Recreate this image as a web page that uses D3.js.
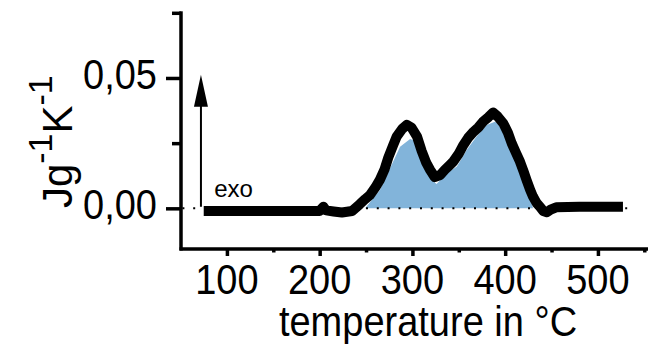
<!DOCTYPE html>
<html>
<head>
<meta charset="utf-8">
<script src="https://cdn.jsdelivr.net/npm/d3@7"></script>
<style>
  html, body { margin: 0; padding: 0; background: #fff; }
  svg { display: block; font-family: "Liberation Sans", Arial, sans-serif; }
</style>
</head>
<body>
<svg id="chart" width="654" height="344"></svg>
<script>
// ---- data ----
const curveTemps = [75, 100, 150, 200, 204, 207, 215, 224, 235, 243, 249, 254, 260, 265, 270, 274, 279, 283, 289, 294, 299, 305, 310, 315, 319, 324, 330, 335, 340, 344, 350, 355, 360, 366, 371, 376, 382, 387, 392, 398, 403, 407, 412, 416, 420, 423, 427, 430, 434, 437.5, 441, 445, 449, 455, 480, 527];
const curveValues = [-0.001, -0.001, -0.001, -0.001, 0.0006, -0.0008, -0.0012, -0.0016, -0.001, 0.0015, 0.0035, 0.005, 0.008, 0.011, 0.015, 0.0195, 0.024, 0.0275, 0.0305, 0.032, 0.031, 0.0275, 0.022, 0.0174, 0.0148, 0.012, 0.0128, 0.0148, 0.0165, 0.0179, 0.021, 0.0243, 0.027, 0.0294, 0.031, 0.0332, 0.035, 0.0368, 0.0352, 0.0326, 0.029, 0.025, 0.021, 0.0179, 0.014, 0.0109, 0.007, 0.0045, 0.002, 0.0006, -0.001, -0.0015, -0.0005, 0.0004, 0.0006, 0.0006];
const fillTemps = [249, 265, 276, 286.7, 297.5, 304.7, 311.6, 321, 326, 337, 348, 358.5, 369, 380, 389, 398, 408.7, 419.5, 430];
const fillValues = [0, 0.007, 0.0155, 0.0236, 0.0266, 0.0256, 0.0174, 0.0109, 0.0093, 0.0135, 0.016, 0.0224, 0.0275, 0.032, 0.0332, 0.0313, 0.0236, 0.0147, 0];
const xTicks = [100, 200, 300, 400, 500];
const xMinorTicks = [150, 250, 350, 450, 550];
const yTicks = [0, 0.05];
const yMinorTicks = [0.025, 0.075];
const xDomain = [50.5, 554];
const yDomain = [-0.0156, 0.075];
const zeroLineTemps = [52, 537];
const arrowTemp = 72;
const arrowValues = [0.0006, 0.0512];
const exoLabel = { t: 86.3, v: 0.0045, text: "exo" };
const xTitle = "temperature in °C";

// ---- chart ----
const svg = d3.select("#chart");
const x = d3.scaleLinear().domain(xDomain).range([181, 648]);
const y = d3.scaleLinear().domain(yDomain).range([249, 12.8]);
const fmt = v => d3.format(".2f")(v).replace(".", ",");
const STRETCH = 1.1;

function stretchedText(px, py, size, anchor, str) {
  return svg.append("text")
    .attr("transform", `translate(${px},${py}) scale(1,${STRETCH})`)
    .attr("text-anchor", anchor)
    .attr("font-size", size)
    .attr("fill", "#000")
    .text(str);
}

// fill
const area = d3.area()
  .x((d, i) => x(fillTemps[i]))
  .y0(y(0))
  .y1((d, i) => y(fillValues[i]));
svg.append("path")
  .attr("d", area(fillValues))
  .attr("fill", "#82b4da");

// dotted zero line
svg.append("line")
  .attr("x1", x(zeroLineTemps[0])).attr("x2", x(zeroLineTemps[1]))
  .attr("y1", y(0)).attr("y2", y(0))
  .attr("stroke", "#000").attr("stroke-width", 2)
  .attr("stroke-dasharray", "2,8.8");

// curve
const line = d3.line()
  .x((d, i) => x(curveTemps[i]))
  .y((d, i) => y(curveValues[i]));
svg.append("path")
  .attr("d", line(curveValues))
  .attr("fill", "none")
  .attr("stroke", "#000")
  .attr("stroke-width", 10)
  .attr("stroke-linejoin", "round")
  .attr("stroke-linecap", "butt");

// arrow
const ax = x(arrowTemp);
const tipY = y(arrowValues[1]);
svg.append("line")
  .attr("x1", ax).attr("x2", ax)
  .attr("y1", y(arrowValues[0])).attr("y2", tipY + 30)
  .attr("stroke", "#000").attr("stroke-width", 2);
svg.append("path")
  .attr("d", `M${ax},${tipY} L${ax - 7},${tipY + 32} L${ax + 7},${tipY + 32} Z`)
  .attr("fill", "#000");

svg.append("text")
  .attr("x", x(exoLabel.t)).attr("y", y(exoLabel.v))
  .attr("font-size", 24)
  .text(exoLabel.text);

// x axis ticks
const x0 = y.range()[0];
const xAxis = svg.append("g").attr("transform", `translate(0,${x0})`);
xAxis.call(d3.axisBottom(x).tickValues(xTicks).tickSize(7).tickFormat(""));
xAxis.select(".domain").remove();
xAxis.selectAll(".tick line").attr("stroke-width", 3.5);
const xMinor = svg.append("g").attr("transform", `translate(0,${x0})`);
xMinor.call(d3.axisBottom(x).tickValues(xMinorTicks).tickSize(3.5).tickFormat(""));
xMinor.select(".domain").remove();
xMinor.selectAll(".tick line").attr("stroke-width", 3.5);
xTicks.forEach(t => stretchedText(x(t), 294, 38, "middle", d3.format("d")(t)));

// y axis ticks
const y0 = x.range()[0];
const yAxis = svg.append("g").attr("transform", `translate(${y0},0)`);
yAxis.call(d3.axisLeft(y).tickValues(yTicks).tickSize(15).tickFormat(""));
yAxis.select(".domain").remove();
yAxis.selectAll(".tick line").attr("stroke-width", 3.5);
const yMinor = svg.append("g").attr("transform", `translate(${y0},0)`);
yMinor.call(d3.axisLeft(y).tickValues(yMinorTicks).tickSize(9).tickFormat(""));
yMinor.select(".domain").remove();
yMinor.selectAll(".tick line").attr("stroke-width", 3.5);
yTicks.forEach(v => stretchedText(157, y(v) + 11, 38, "end", fmt(v)));

// axis lines
svg.append("line")
  .attr("x1", y0).attr("x2", y0)
  .attr("y1", y.range()[1] - 1.5).attr("y2", x0 + 1.5)
  .attr("stroke", "#000").attr("stroke-width", 3.5);
svg.append("line")
  .attr("x1", y0 - 1.5).attr("x2", x.range()[1])
  .attr("y1", x0).attr("y2", x0)
  .attr("stroke", "#000").attr("stroke-width", 3.5);

// titles
stretchedText(428, 336, 38, "middle", xTitle);

const yt = svg.append("text")
  .attr("transform", "translate(72,141.7) rotate(-90)")
  .attr("text-anchor", "middle")
  .attr("font-size", 42);
yt.append("tspan").text("Jg");
yt.append("tspan").attr("font-size", 34).attr("dy", -20).text("-1");
yt.append("tspan").attr("dy", 20).text("K");
yt.append("tspan").attr("font-size", 34).attr("dy", -20).text("-1");
</script>
</body>
</html>
